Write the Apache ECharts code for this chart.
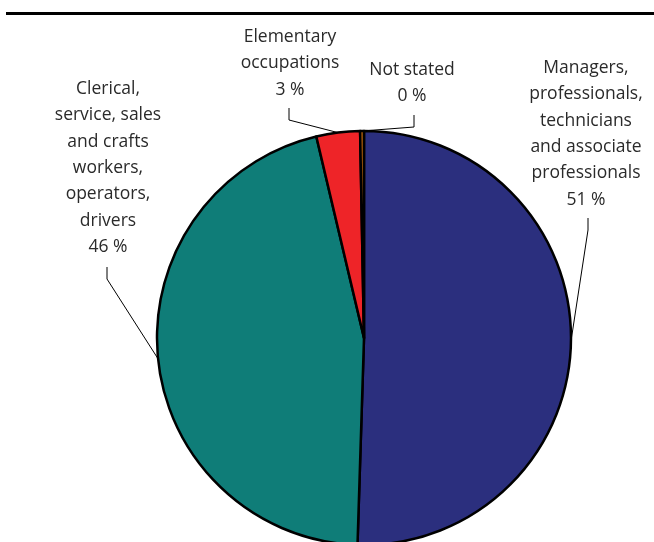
<!DOCTYPE html>
<html>
<head>
<meta charset="utf-8">
<script src="https://cdn.jsdelivr.net/npm/echarts@6/dist/echarts.min.js"></script>
<style>
  html, body { margin: 0; padding: 0; background: #fff; }
  #main { width: 654px; height: 542px; }
</style>
</head>
<body>
<div id="main"></div>
<script>
// data (labels show rounded values)
const categories = [
  'Managers,\nprofessionals,\ntechnicians\nand associate\nprofessionals',
  'Clerical,\nservice, sales\nand crafts\nworkers,\noperators,\ndrivers',
  'Elementary\noccupations',
  'Not stated'
]
const shares = [50.5, 45.8, 3.4, 0.3]
const colors = ['#2b2f7e', '#0f7d78', '#ee2428', '#b8620a']

// label anchor (text box center x, top y) and the elbow of its leader line
const labelPos = [
  { x: 586, y: 55, elbow: [588, 218] },
  { x: 108, y: 76, elbow: [107, 267] },
  { x: 290, y: 24, elbow: [289, 108] },
  { x: 412, y: 57, elbow: [414, 115] }
]

const chart = echarts.init(document.getElementById('main'))

let data = []
for (let i = 0; i < categories.length; i++) {
  data.push({
    name: categories[i],
    value: shares[i],
    itemStyle: { color: colors[i] }
  })
}

const option = {
  backgroundColor: '#ffffff',
  animation: false,
  graphic: [{
    type: 'line',
    shape: { x1: 6, y1: 13.5, x2: 654, y2: 13.5 },
    style: { stroke: '#000', lineWidth: 3 }
  }],
  series: [{
    type: 'pie',
    center: [364, 338],
    radius: [0, 207],
    startAngle: 90,
    clockwise: true,
    data: data,
    itemStyle: {
      borderColor: '#000',
      borderWidth: 2.5
    },
    label: {
      show: true,
      formatter: function (p) {
        return p.name + '\n' + Math.round(p.value) + ' %'
      },
      fontFamily: 'Open Sans',
      fontSize: 17.5,
      lineHeight: 26.3,
      color: '#2a2a2a',
      align: 'center',
      overflow: 'none',
      width: 200
    },
    labelLine: {
      show: true,
      lineStyle: { color: '#000', width: 1 }
    },
    labelLayout: function (params) {
      const pos = labelPos[params.dataIndex]
      const edge = params.labelLinePoints[0]
      const e = pos.elbow
      return {
        x: pos.x,
        y: pos.y,
        align: 'center',
        verticalAlign: 'top',
        labelLinePoints: [edge, [e[0], e[1] + 12], [e[0], e[1]]]
      }
    }
  }]
}

chart.setOption(option, true)
</script>
</body>
</html>
